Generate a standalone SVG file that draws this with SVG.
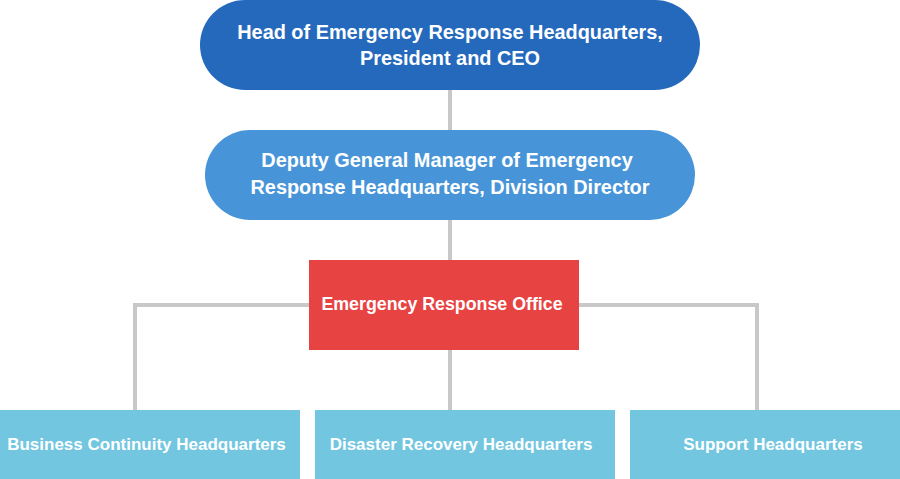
<svg xmlns="http://www.w3.org/2000/svg" width="900" height="479" viewBox="0 0 900 479">
<style>
.t{font-family:"Liberation Sans",Arial,sans-serif;font-weight:bold;fill:#fff;text-anchor:middle}
.big{font-size:19.9px}
.sm{font-size:17px}
.ln{fill:none;stroke:#c8c8c8;stroke-width:4}
</style>
<rect width="900" height="479" fill="#fff"/>
<g id="connectors">
<line class="ln" x1="450" y1="88" x2="450" y2="132"/>
<line class="ln" x1="450" y1="218" x2="450" y2="262"/>
<line class="ln" x1="450" y1="348" x2="450" y2="412"/>
<polyline class="ln" points="135,412 135,305 311,305"/>
<polyline class="ln" points="757,412 757,305 577,305"/>
</g>
<g id="head">
<rect x="200" y="0" width="500" height="90" rx="45" fill="#2569bd"/>
<text class="t big" x="450" y="39">Head of Emergency Response Headquarters,</text>
<text class="t big" x="450" y="65">President and CEO</text>
</g>
<g id="deputy">
<rect x="205" y="130" width="490" height="90" rx="45" fill="#4795d8"/>
<text class="t big" x="447" y="167">Deputy General Manager of Emergency</text>
<text class="t big" x="450" y="194">Response Headquarters, Division Director</text>
</g>
<g id="office">
<rect x="309" y="260" width="270" height="90" fill="#e84343"/>
<text class="t" style="font-size:17.8px" x="442" y="310">Emergency Response Office</text>
</g>
<g id="bch">
<rect x="0" y="410" width="300" height="69" fill="#72c6df"/>
<text class="t sm" x="146.5" y="450">Business Continuity Headquarters</text>
</g>
<g id="drh">
<rect x="315" y="410" width="300" height="69" fill="#72c6df"/>
<text class="t sm" x="461" y="450">Disaster Recovery Headquarters</text>
</g>
<g id="sh">
<rect x="630" y="410" width="270" height="69" fill="#72c6df"/>
<text class="t sm" x="773" y="450">Support Headquarters</text>
</g>
</svg>
